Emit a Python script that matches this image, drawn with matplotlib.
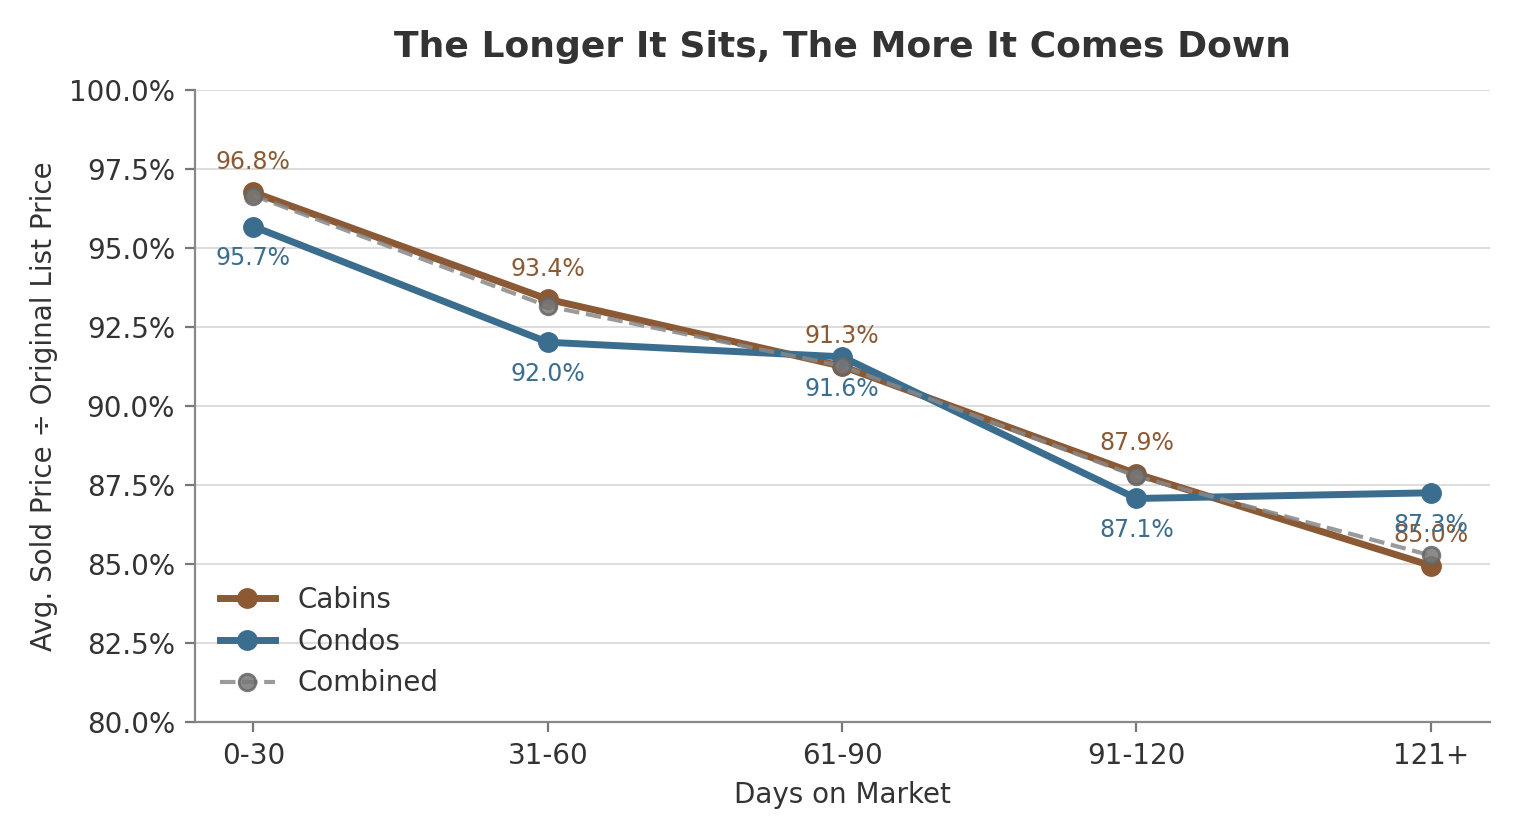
import matplotlib
matplotlib.use("Agg")
import matplotlib.pyplot as plt
from matplotlib.ticker import PercentFormatter

# data
categories = ["0-30", "31-60", "61-90", "91-120", "121+"]
cabins = [96.76, 93.38, 91.26, 87.86, 84.96]
condos = [95.68, 92.02, 91.56, 87.08, 87.26]
combined = [96.66, 93.16, 91.27, 87.78, 85.28]

cabin_color = "#8b5a35"
condo_color = "#3b6d8f"
text_color = "#333333"

plt.rcParams["font.family"] = "DejaVu Sans"
plt.rcParams["text.color"] = text_color
plt.rcParams["axes.labelcolor"] = text_color
plt.rcParams["xtick.color"] = text_color
plt.rcParams["ytick.color"] = text_color

fig, ax = plt.subplots(figsize=(7.6, 4.2), dpi=200)
fig.subplots_adjust(left=0.128, right=0.980, top=0.893, bottom=0.140)

x = list(range(len(categories)))
ax.plot(x, cabins, color=cabin_color, lw=2.5, marker="o", ms=6.5, label="Cabins", zorder=3)
ax.plot(x, condos, color=condo_color, lw=2.5, marker="o", ms=6.5, label="Condos", zorder=3)
ax.plot(x, combined, color="#888888", lw=1.5, ls="--", marker="o", ms=6,
        markerfacecolor="#777777", markeredgecolor="#666666", alpha=0.85,
        label="Combined", zorder=4)

# value labels: cabins above, condos below
for xi, v in zip(x, cabins):
    ax.annotate(f"{v:.1f}%", (xi, v), xytext=(0, 11), textcoords="offset points",
                ha="center", va="center", fontsize=8.5, color=cabin_color)
for xi, v in zip(x, condos):
    ax.annotate(f"{v:.1f}%", (xi, v), xytext=(0, -11.5), textcoords="offset points",
                ha="center", va="center", fontsize=8.5, color=condo_color)

ax.set_xticks(x)
ax.set_xticklabels(categories)
ax.set_xlim(-0.2, 4.2)
ax.set_ylim(80, 100)
ax.set_yticks([80, 82.5, 85, 87.5, 90, 92.5, 95, 97.5, 100])
ax.yaxis.set_major_formatter(PercentFormatter(decimals=1))
ax.tick_params(labelsize=10, color="#777777", length=3.5)

ax.grid(axis="y", color="#dddddd", lw=0.7)
ax.set_axisbelow(True)
for s in ["top", "right"]:
    ax.spines[s].set_visible(False)
for s in ["left", "bottom"]:
    ax.spines[s].set_color("#888888")
    ax.spines[s].set_linewidth(0.8)

ax.set_title("The Longer It Sits, The More It Comes Down", fontsize=13,
             fontweight="bold", pad=12)
ax.set_xlabel("Days on Market", fontsize=10)
ax.set_ylabel("Avg. Sold Price \u00f7 Original List Price", fontsize=10)
ax.legend(loc="lower left", frameon=False, fontsize=10)

fig.savefig("out.png")
